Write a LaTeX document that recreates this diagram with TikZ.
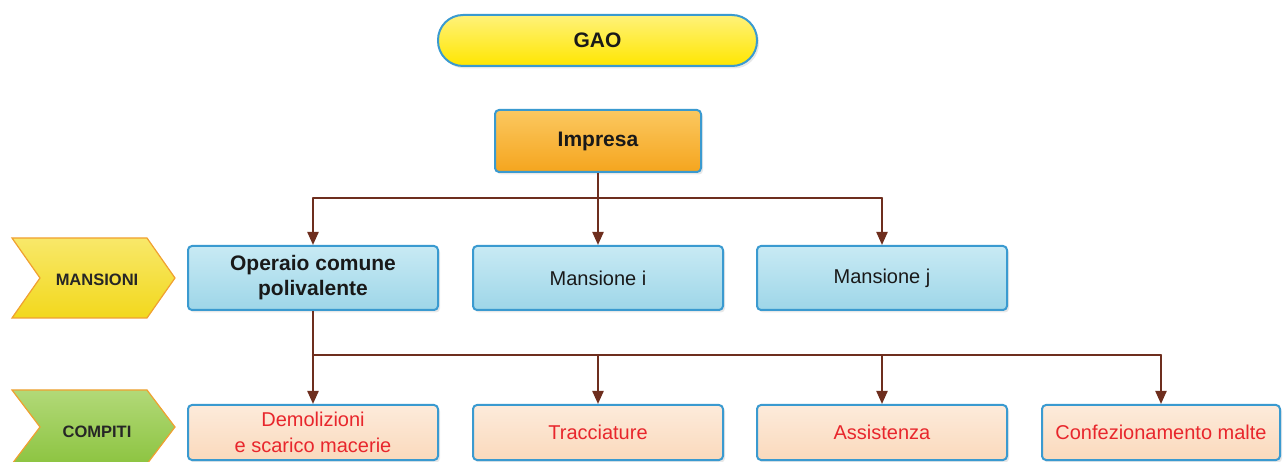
\documentclass[tikz,border=0pt]{standalone}
\usepackage{fontspec}
\setmainfont{Liberation Sans}
\usetikzlibrary{arrows.meta,shadows}
\definecolor{bordblue}{HTML}{3A9AD0}
\definecolor{gaoY}{HTML}{FFE600}
\definecolor{gaoYl}{HTML}{FFF27A}
\definecolor{impO}{HTML}{F5A51E}
\definecolor{impOl}{HTML}{FBC860}
\definecolor{manB}{HTML}{9ED6E8}
\definecolor{manBl}{HTML}{C8EAF4}
\definecolor{comP}{HTML}{FAD9BC}
\definecolor{comPl}{HTML}{FDEBDB}
\definecolor{redtxt}{HTML}{E8262C}
\definecolor{brownline}{HTML}{6E2E1E}
\definecolor{chevY}{HTML}{F2D81C}
\definecolor{chevYl}{HTML}{F8E86A}
\definecolor{chevG}{HTML}{8DC441}
\definecolor{chevGl}{HTML}{B2D978}
\definecolor{chevBord}{HTML}{F0A030}
\tikzset{
  box/.style={draw=bordblue, line width=2pt, rounded corners=4pt, inner sep=0pt, align=center,
    font=\fontsize{20}{25}\selectfont, text=black!90,
    drop shadow={opacity=0.18, shadow xshift=2pt, shadow yshift=-2.5pt}},
  boldtxt/.style={font=\bfseries\fontsize{21}{25}\selectfont},
  mansbox/.style={box, top color=manBl, bottom color=manB, minimum height=64pt},
  compbox/.style={box, top color=comPl, bottom color=comP, minimum height=55pt, text=redtxt, font=\fontsize{20}{26}\selectfont},
  conn/.style={draw=brownline, line width=2.2pt},
  arr/.style={conn, -{Triangle[length=13pt,width=11pt]}},
  chev/.style={draw=chevBord, line width=1.2pt},
  chevtxt/.style={font=\bfseries\fontsize{16.5}{19}\selectfont, text=black!85},
}
\begin{document}
\begin{tikzpicture}[x=1pt,y=-1pt]
\useasboundingbox (0,0) rectangle (1286,462);
\clip (0,0) rectangle (1286,462);
% top
\node[box, boldtxt, rounded corners=25pt, top color=gaoYl, bottom color=gaoY, minimum width=319pt, minimum height=51pt] (gao) at (597.5,40.5) {GAO};
\node[box, boldtxt, top color=impOl, bottom color=impO, minimum width=206pt, minimum height=62pt] (imp) at (598,141) {Impresa};
% chevrons
\draw[chev, top color=chevYl, bottom color=chevY] (12,238) -- (147,238) -- (175,278) -- (147,318) -- (12,318) -- (40,278) -- cycle;
\node[chevtxt] (lman) at (97,280) {MANSIONI};
\draw[chev, top color=chevGl, bottom color=chevG] (12,390) -- (147,390) -- (175,427) -- (147,464) -- (12,464) -- (40,427) -- cycle;
\node[chevtxt] (lcom) at (97,432) {COMPITI};
% mansioni
\node[mansbox, boldtxt, minimum width=250pt] (m1) at (313,278) {Operaio comune\\polivalente};
\node[mansbox, minimum width=250pt] (m2) at (598,278) {Mansione i};
\node[mansbox, minimum width=250pt] (m3) at (882,278) {Mansione j};
% compiti
\node[compbox, minimum width=250pt] (c1) at (313,432.5) {Demolizioni\\e scarico macerie};
\node[compbox, minimum width=250pt] (c2) at (598,432.5) {Tracciature};
\node[compbox, minimum width=250pt] (c3) at (882,432.5) {Assistenza};
\node[compbox, minimum width=238pt] (c4) at (1161,432.5) {Confezionamento malte};
% connectors
\coordinate (h1) at (598,198);
\coordinate (h2) at (313,355);
\draw[conn] (imp.south) -- (h1);
\draw[conn, line cap=round] (h1 -| m1) -- (h1 -| m3);
\draw[arr] (h1 -| m1) -- (m1.north);
\draw[arr] (h1 -| m2) -- (m2.north);
\draw[arr] (h1 -| m3) -- (m3.north);
\draw[conn] (m1.south) -- (h2);
\draw[conn, line cap=round] (h2) -- (h2 -| c4);
\draw[arr] (h2 -| c1) -- (c1.north);
\draw[arr] (h2 -| c2) -- (c2.north);
\draw[arr] (h2 -| c3) -- (c3.north);
\draw[arr] (h2 -| c4) -- (c4.north);
\end{tikzpicture}
\end{document}
